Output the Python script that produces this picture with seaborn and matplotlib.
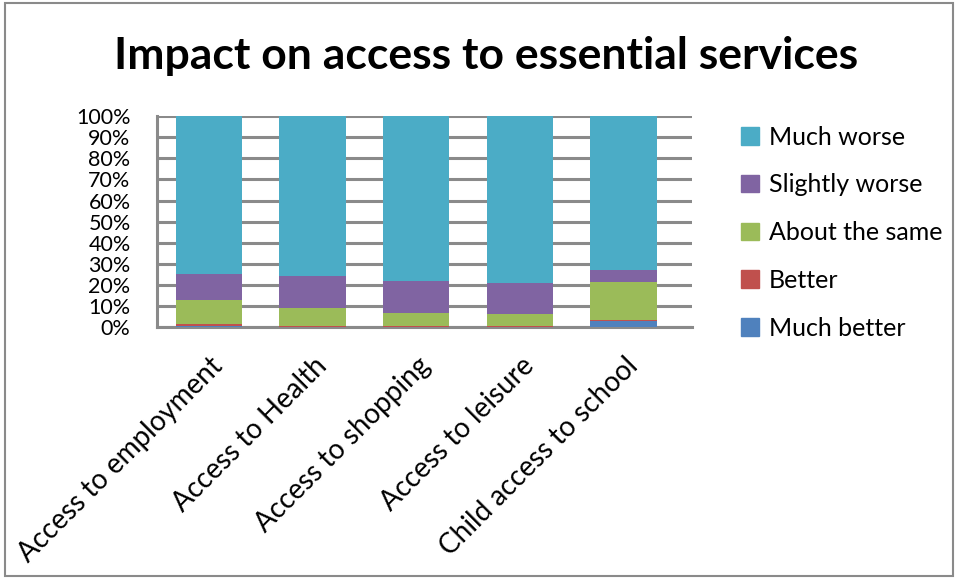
import matplotlib
matplotlib.use("Agg")
import matplotlib.pyplot as plt
import matplotlib.patches as mpatches
import matplotlib.transforms as mtransforms
import numpy as np
import pandas as pd
import seaborn as sns

# values (percent of respondents)
categories = ["Access to employment", "Access to Health", "Access to shopping",
              "Access to leisure", "Child access to school"]
much_better = [0.5, 0.3, 0.3, 0.3, 2.8]
better = [1.2, 0.2, 0.2, 0.2, 0.6]
about_same = [11.1, 8.7, 6.2, 5.7, 17.9]
slightly_worse = [12.4, 15.2, 15.2, 14.7, 5.9]
much_worse = [74.8, 75.6, 78.1, 79.1, 72.8]

series = ["Much better", "Better", "About the same", "Slightly worse", "Much worse"]
colors = ["#4F81BD", "#C0504D", "#9BBB59", "#8064A2", "#4BACC6"]

df = pd.DataFrame({"cat": categories, "Much better": much_better, "Better": better,
                   "About the same": about_same, "Slightly worse": slightly_worse,
                   "Much worse": much_worse})
cum = df[series].cumsum(axis=1)

sns.set_style("white")
plt.rcParams["font.family"] = ["Lato", "DejaVu Sans"]
plt.rcParams["text.color"] = "black"
plt.rcParams["xtick.color"] = "black"
plt.rcParams["ytick.color"] = "black"

fig = plt.figure(figsize=(9.57, 5.78), dpi=100)
ax = fig.add_axes([0.164, 0.434, 0.559, 0.365])

# stacked bars: draw cumulative totals from top layer down
for s, c in zip(series[::-1], colors[::-1]):
    sns.barplot(x=df["cat"], y=cum[s], color=c, width=0.64, ax=ax,
                linewidth=0, saturation=1, zorder=3)

ax.set_xlim(-0.5, 4.66)
ax.set_ylim(0, 100)
ax.set_yticks(np.arange(0, 101, 10))
ax.set_yticklabels([f"{v}%" for v in range(0, 101, 10)], fontsize=15.5)
ax.set_xlabel("")
ax.set_ylabel("")
ax.yaxis.grid(True, color="#8a8a8a", linewidth=2.2, zorder=0)
ax.set_axisbelow(True)
for sp in ["top", "right"]:
    ax.spines[sp].set_visible(False)
for sp in ["left", "bottom"]:
    ax.spines[sp].set_color("#8a8a8a")
    ax.spines[sp].set_linewidth(2.2)
ax.tick_params(axis="y", length=0, pad=19)
ax.tick_params(axis="x", length=0)

offset = mtransforms.ScaledTranslation(0.10, -0.30, fig.dpi_scale_trans)
for lab in ax.get_xticklabels():
    lab.set_rotation(45)
    lab.set_ha("right")
    lab.set_va("center")
    lab.set_rotation_mode("anchor")
    lab.set_fontsize(20)
    lab.set_transform(lab.get_transform() + offset)

handles = [mpatches.Patch(color=c, label=s) for s, c in zip(series[::-1], colors[::-1])]
fig.legend(handles=handles, loc="upper left", bbox_to_anchor=(0.764, 0.80),
           frameon=False, fontsize=18, handlelength=0.7, handleheight=0.7,
           handletextpad=0.4, labelspacing=0.99, borderaxespad=0)

fig.text(0.508, 0.880, "Impact on access to essential services", ha="center",
         va="baseline", fontsize=32, fontweight="bold")

fig.patches.append(mpatches.Rectangle((0.005, 0.004), 0.991, 0.99, transform=fig.transFigure,
                                      fill=False, edgecolor="#8a8a8a", linewidth=1.5))

fig.savefig("out.png", dpi=100)
